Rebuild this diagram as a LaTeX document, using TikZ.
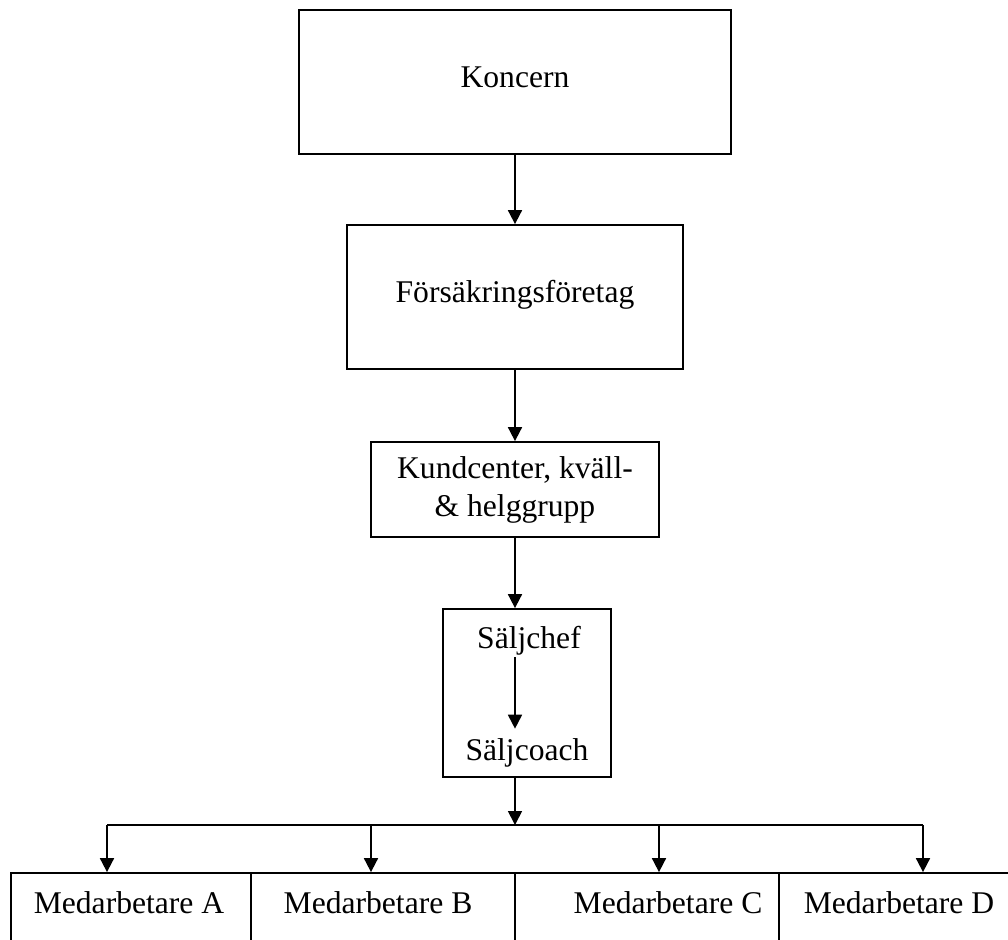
\documentclass[tikz,border=0pt]{standalone}
\usepackage{fontspec}
\setmainfont{Liberation Serif}
\usetikzlibrary{arrows.meta}

\begin{document}
\begin{tikzpicture}[x=0.5pt, y=-0.5pt,
	every node/.style={font=\fontsize{15.8}{19}\selectfont},
	box/.style={draw, line width=0.9pt, inner sep=0pt},
	boxtext/.style={box, text height=10.5pt, text depth=5.5pt},
	label text/.style={inner sep=1pt},
	conn/.style={line width=0.9pt, -{Triangle[length=7pt, width=7pt]}}]
	\useasboundingbox (0,0) rectangle (1008,939);
	\clip (0,0) rectangle (1008,939);

	\begin{scope}
		\node[boxtext, minimum width=216pt, minimum height=72pt] (koncern) at (515,82) {Koncern};
		\node[boxtext, minimum width=168pt, minimum height=72pt] (forsak) at (515,297) {Försäkringsföretag};
		\node[box, minimum width=144pt, minimum height=47.5pt, align=center] (kund) at (515,489.5) {Kundcenter, kväll-\\\& helggrupp};
		\node[box, minimum width=84pt, minimum height=84pt] (saljbox) at (527,693) {};
		\node[label text, anchor=base] (saljchef) at (529,648) {Säljchef};
		\node[label text, anchor=base] (saljcoach) at (527,760) {Säljcoach};
	\end{scope}

	\begin{scope}
		\node[box, minimum width=120pt, minimum height=63.5pt] (medA) at (131,936.5) {};
		\node[box, minimum width=132pt, minimum height=63.5pt] (medB) at (383,936.5) {};
		\node[box, minimum width=132pt, minimum height=63.5pt] (medC) at (647,936.5) {};
		\node[box, minimum width=132pt, minimum height=63.5pt] (medD) at (911,936.5) {};
		\node[label text, anchor=base] (textA) at (129,913) {Medarbetare A};
		\node[label text, anchor=base] (textB) at (378,913) {Medarbetare B};
		\node[label text, anchor=base] (textC) at (668,913) {Medarbetare C};
		\node[label text, anchor=base] (textD) at (899,913) {Medarbetare D};
	\end{scope}

	\coordinate (bus) at (515,825);
	\coordinate (busA) at (107,825);
	\coordinate (busB) at (371,825);
	\coordinate (busC) at (659,825);
	\coordinate (busD) at (923,825);

	\begin{scope}[conn]
		\draw (koncern) -- (forsak);
		\draw (forsak) -- (kund);
		\draw (kund.south) -- (kund.south |- saljbox.north);
		\draw[shorten >=3.5pt] (saljchef.south -| kund.south) -- (saljcoach.north -| kund.south);
		\draw (saljbox.south -| kund.south) -- (bus);
		\draw (busA) -- (busA |- medA.north);
		\draw (busB) -- (busB |- medB.north);
		\draw (busC) -- (busC |- medC.north);
		\draw (busD) -- (busD |- medD.north);
	\end{scope}
	\draw[line width=0.9pt] (busA) -- (busD);
\end{tikzpicture}
\end{document}
